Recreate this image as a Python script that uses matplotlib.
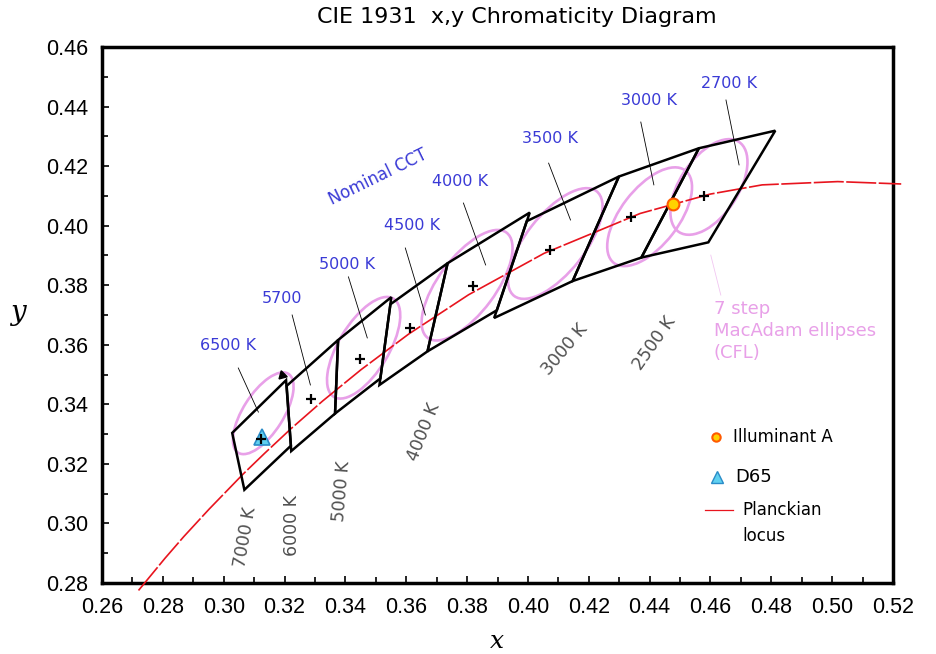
import numpy as np
import matplotlib
matplotlib.use("Agg")
import matplotlib.pyplot as plt
from matplotlib.patches import Ellipse, Polygon

# Planckian locus (x, y)
locus_x = [0.2720, 0.2807, 0.2869, 0.2952, 0.3064, 0.3135, 0.3221, 0.3325, 0.3451,
           0.3608, 0.3805, 0.4053, 0.4369, 0.4599, 0.4770, 0.5018, 0.5227]
locus_y = [0.2775, 0.2883, 0.2956, 0.3048, 0.3166, 0.3236, 0.3318, 0.3411, 0.3516,
           0.3636, 0.3768, 0.3907, 0.4041, 0.4106, 0.4137, 0.4148, 0.4140]

# ANSI quadrangles: nominal CCT, centre, four corners
quad_names = ["2700 K", "3000 K", "3500 K", "4000 K", "4500 K", "5000 K", "5700", "6500 K"]
quad_cx = [0.4578, 0.4338, 0.4073, 0.3818, 0.3611, 0.3447, 0.3287, 0.3123]
quad_cy = [0.4101, 0.4030, 0.3917, 0.3797, 0.3658, 0.3553, 0.3417, 0.3282]
quad_corners = [
    [(0.4813, 0.4319), (0.4562, 0.4260), (0.4373, 0.3893), (0.4593, 0.3944)],
    [(0.4562, 0.4260), (0.4299, 0.4165), (0.4147, 0.3814), (0.4373, 0.3893)],
    [(0.4299, 0.4165), (0.3996, 0.4015), (0.3889, 0.3690), (0.4147, 0.3814)],
    [(0.4006, 0.4044), (0.3736, 0.3874), (0.3670, 0.3578), (0.3898, 0.3716)],
    [(0.3736, 0.3874), (0.3548, 0.3736), (0.3512, 0.3465), (0.3670, 0.3578)],
    [(0.3551, 0.3760), (0.3376, 0.3616), (0.3366, 0.3369), (0.3515, 0.3487)],
    [(0.3376, 0.3616), (0.3207, 0.3462), (0.3222, 0.3243), (0.3366, 0.3369)],
    [(0.3205, 0.3481), (0.3028, 0.3304), (0.3068, 0.3113), (0.3221, 0.3261)],
]
# nominal label positions and leader lines
lab_x = [0.4661, 0.4397, 0.4071, 0.3778, 0.3620, 0.3406, 0.3192, 0.3015]
lab_y = [0.4476, 0.4419, 0.4294, 0.4147, 0.4002, 0.3868, 0.3757, 0.3596]
lead_from = [(0.4651, 0.4422), (0.4371, 0.4348), (0.4068, 0.4210), (0.3788, 0.4076),
             (0.3597, 0.3925), (0.3410, 0.3828), (0.3225, 0.3700), (0.3048, 0.3522)]
lead_to = [(0.4694, 0.4204), (0.4414, 0.4137), (0.4140, 0.4019), (0.3861, 0.3868),
           (0.3663, 0.3700), (0.3472, 0.3623), (0.3285, 0.3465), (0.3114, 0.3374)]

# 7-step MacAdam ellipses (CFL): centre, 1-step semi-axes a, b, angle
ell_x = [0.313, 0.346, 0.380, 0.409, 0.440, 0.4595]
ell_y = [0.337, 0.359, 0.380, 0.394, 0.403, 0.4130]
ell_a = [0.00223, 0.00274, 0.00313, 0.00317, 0.00278, 0.00258]
ell_b = [0.00095, 0.00118, 0.00134, 0.00139, 0.00136, 0.00137]
ell_t = [58.23, 59.62, 54.00, 52.58, 53.13, 57.28]
STEPS = 7

# isotherm labels under the locus
iso_names = ["7000 K", "6000 K", "5000 K", "4000 K", "3000 K", "2500 K"]
iso_x = [0.3071, 0.3225, 0.3387, 0.3657, 0.4121, 0.4414]
iso_y = [0.2955, 0.2992, 0.3109, 0.3307, 0.3583, 0.3606]
iso_rot = [80, 90, 85, 68, 50, 55]

illA = (0.4476, 0.4074)
d65 = (0.3127, 0.3290)

fig = plt.figure(figsize=(9.36, 6.54), dpi=100)
ax = fig.add_axes([102/936, 1-583/654, 791/936, 536/654])
ax.set_xlim(0.26, 0.52); ax.set_ylim(0.28, 0.46)

pink = "#e8a0e8"
for x, y, a, b, t in zip(ell_x, ell_y, ell_a, ell_b, ell_t):
    ax.add_patch(Ellipse((x, y), 2*a*STEPS, 2*b*STEPS, angle=t, fill=False,
                         ec=pink, lw=1.9, zorder=2))

ax.plot(locus_x, locus_y, color="#e8141e", lw=1.2, dashes=(18, 1.5), clip_on=False, zorder=3)

for c in quad_corners:
    ax.add_patch(Polygon(c, closed=True, fill=False, ec="black", lw=1.8, zorder=4))
ax.plot(quad_cx, quad_cy, "+", color="black", ms=7, mew=1.6, zorder=6)

blue = "#3a3ad6"
for name, lx, ly, p0, p1 in zip(quad_names, lab_x, lab_y, lead_from, lead_to):
    ax.text(lx, ly, name, color=blue, fontsize=11.5, ha="center", va="center")
    ax.plot([p0[0], p1[0]], [p0[1], p1[1]], color="black", lw=0.6, zorder=4)
ax.text(0.3508, 0.4163, "Nominal CCT", color=blue, fontsize=12, rotation=26,
        ha="center", va="center")

for name, x, y, r in zip(iso_names, iso_x, iso_y, iso_rot):
    ax.text(x, y, name, color="#505050", fontsize=12.5, rotation=r, ha="center", va="center")

ax.text(0.4611, 0.3752, "7 step\nMacAdam ellipses\n(CFL)", color=pink, fontsize=13,
        ha="left", va="top", linespacing=1.3)
ax.plot([0.4601, 0.4634], [0.3901, 0.3767], color=pink, lw=0.6, alpha=0.6)

ax.plot(*illA, "o", ms=8.5, mfc="#ffd200", mec="#ff5a00", mew=1.5, zorder=7)
ax.plot(*d65, "^", ms=11, mfc="#5fd0f0", mec="#2a8cc8", mew=1.2, zorder=5)
ax.plot(0.3192, 0.3497, marker=(3, 0, 15), ms=7, color="black", zorder=7)

# key
T = ax.transAxes
ax.plot(0.776, 0.272, "o", ms=6, mfc="#ffd200", mec="#ff5a00", mew=1.5, transform=T)
ax.text(0.798, 0.272, "Illuminant A", fontsize=12, va="center", transform=T)
ax.plot(0.778, 0.198, "^", ms=9, mfc="#5fd0f0", mec="#2a8cc8", mew=1.0, transform=T)
ax.text(0.800, 0.198, "D65", fontsize=13, va="center", transform=T)
ax.plot([0.762, 0.798], [0.136, 0.136], color="#e8141e", lw=0.9, transform=T)
ax.text(0.809, 0.136, "Planckian", fontsize=12, va="center", transform=T)
ax.text(0.809, 0.088, "locus", fontsize=12, va="center", transform=T)

ax.set_xticks(np.arange(0.26, 0.5201, 0.02))
ax.set_yticks(np.arange(0.28, 0.4601, 0.02))
ax.set_xticks(np.arange(0.27, 0.52, 0.02), minor=True)
ax.set_yticks(np.arange(0.29, 0.46, 0.02), minor=True)
ax.xaxis.set_major_formatter(matplotlib.ticker.FormatStrFormatter("%.2f"))
ax.yaxis.set_major_formatter(matplotlib.ticker.FormatStrFormatter("%.2f"))
ax.tick_params(which="both", direction="in", top=False, right=False, width=1.2)
ax.tick_params(which="major", length=5, labelsize=15.5, pad=10)
ax.tick_params(which="minor", length=4)
for lab in ax.get_xticklabels() + ax.get_yticklabels():
    lab.set_family("Liberation Sans")
for s in ax.spines.values():
    s.set_linewidth(2.5)

fig.text(517/936, 1-17/654, "CIE 1931  x,y Chromaticity Diagram", fontsize=16,
         ha="center", va="center")
fig.text(18/936, 1-312/654, "y", fontsize=20, style="italic", family="DejaVu Serif",
         ha="center", va="center")
fig.text(497/936, 1-641/654, "x", fontsize=18, style="italic", family="DejaVu Serif",
         ha="center", va="center")

fig.savefig("out.png", dpi=100)
